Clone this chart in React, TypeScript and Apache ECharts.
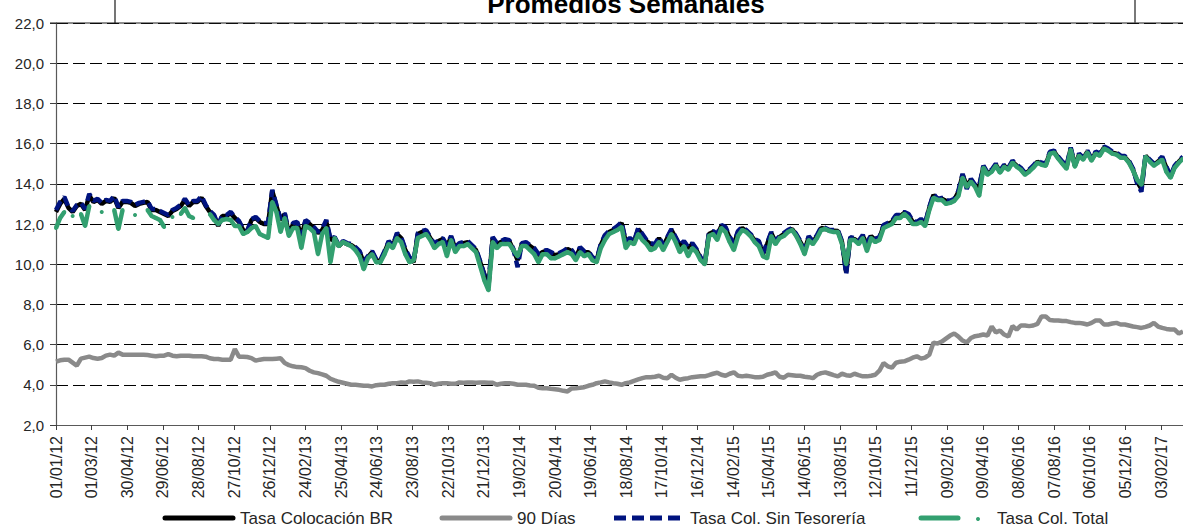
import React, { useEffect, useRef } from "react";
import * as echarts from "echarts";

// Weekly observations starting 01/01/2012 (week index i -> day i*7)
const startDateUTC = Date.UTC(2012, 0, 1);

const tasaColocacionBR: number[] = [
  12.6, 13.0, 13.25, 12.8, 12.6, 12.9, 13.0, 12.7, 13.4, 13.1,
  13.2, 13.0, 13.15, 13.1, 13.3, 12.8, 13.1, 13.1, 13.05, 12.9,
  13.0, 13.05, 13.1, 12.7, 12.7, 12.6, 12.5, 12.4, 12.65, 12.75,
  12.9, 13.2, 12.9, 13.1, 13.1, 13.3, 12.9, 12.6, 12.4, 11.9,
  12.4, 12.4, 12.55, 12.3, 12.1, 11.7, 11.6, 12.2, 12.3, 12.1,
  12.0, 12.0, 13.65, 12.9, 12.2, 12.5, 11.5, 12.0, 12.05, 11.4,
  12.15, 12.0, 11.8, 11.55, 11.7, 12.1, 11.2, 11.3, 10.9, 11.1,
  11.0, 10.95, 10.8, 10.6, 10.1, 10.35, 10.6, 10.2, 10.15, 10.6,
  11.1, 10.9, 11.5, 11.3, 10.7, 10.3, 10.1, 11.5, 11.6, 11.65,
  11.3, 10.95, 11.15, 11.25, 10.9, 11.35, 10.8, 11.0, 11.05, 11.1,
  10.9, 10.7, 10.1, 9.5, 8.9, 11.3, 11.0, 11.1, 11.2, 11.15,
  10.7, 10.2, 11.0, 11.05, 10.9, 10.75, 10.45, 10.6, 10.67, 10.55,
  10.45, 10.5, 10.6, 10.75, 10.65, 10.35, 10.8, 10.6, 10.6, 10.3,
  10.2, 10.95, 11.4, 11.6, 11.7, 11.85, 12.05, 11.1, 11.25, 11.1,
  11.75, 11.45, 11.15, 11.0, 10.95, 11.3, 10.9, 11.3, 11.7, 11.3,
  10.9, 11.1, 10.8, 11.0, 10.7, 10.3, 10.0, 11.5, 11.6, 11.45,
  11.9, 11.8, 11.3, 11.0, 11.6, 11.8, 11.65, 11.45, 11.2, 11.1,
  10.5, 11.0, 11.55, 11.1, 11.35, 11.5, 11.65, 11.75, 11.45, 11.1,
  10.7, 11.35, 11.1, 11.4, 11.8, 11.75, 11.67, 11.67, 11.65, 11.1,
  9.6, 11.3, 11.25, 11.1, 11.4, 11.0, 11.4, 11.2, 11.3, 11.9,
  12.0, 12.1, 12.4, 12.4, 12.55, 12.45, 12.1, 12.05, 12.2, 12.0,
  12.8, 13.45, 13.2, 13.25, 13.15, 13.1, 13.2, 13.6, 14.45, 13.9,
  14.2, 13.9, 13.85, 14.85, 14.5, 14.65, 14.95, 14.6, 14.9, 14.75,
  15.1, 14.9, 14.75, 14.5, 14.65, 14.85, 15.1, 15.0, 14.95, 15.55,
  15.6, 15.3, 15.05, 14.85, 15.75, 14.9, 15.45, 15.25, 15.6, 15.2,
  15.55, 15.45, 15.8, 15.7, 15.55, 15.5, 15.35, 15.33, 15.1, 14.7,
  14.1, 13.75, 15.4, 15.15, 14.95, 15.1, 15.3, 14.8, 14.35, 14.85,
  15.1, 15.3,
];

const dias90: number[] = [
  5.15, 5.22, 5.25, 5.25, 5.1, 4.95, 5.3, 5.35, 5.4, 5.33,
  5.3, 5.33, 5.45, 5.5, 5.45, 5.6, 5.5, 5.5, 5.5, 5.5,
  5.5, 5.5, 5.48, 5.45, 5.42, 5.45, 5.45, 5.53, 5.45, 5.42,
  5.45, 5.45, 5.45, 5.42, 5.42, 5.42, 5.4, 5.32, 5.28, 5.28,
  5.25, 5.25, 5.25, 5.78, 5.4, 5.4, 5.38, 5.33, 5.2, 5.25,
  5.28, 5.28, 5.28, 5.3, 5.32, 5.08, 4.98, 4.92, 4.88, 4.87,
  4.83, 4.7, 4.62, 4.58, 4.52, 4.45, 4.3, 4.22, 4.15, 4.1,
  4.05, 4.0, 4.0, 3.98, 3.95, 3.95, 3.92, 3.98, 4.0, 4.0,
  4.05, 4.08, 4.08, 4.12, 4.1, 4.17, 4.15, 4.17, 4.12, 4.1,
  4.08, 4.0, 4.05, 4.08, 4.08, 4.05, 4.05, 4.12, 4.1, 4.12,
  4.12, 4.1, 4.12, 4.12, 4.1, 4.1, 4.0, 4.05, 4.08, 4.08,
  4.05, 4.0, 4.0, 4.0, 3.97, 3.95, 3.85, 3.83, 3.83, 3.8,
  3.78, 3.75, 3.7, 3.67, 3.82, 3.83, 3.85, 3.88, 3.95, 4.0,
  4.08, 4.12, 4.17, 4.12, 4.08, 4.05, 4.0, 4.08, 4.12, 4.2,
  4.27, 4.33, 4.38, 4.38, 4.4, 4.45, 4.35, 4.33, 4.5, 4.35,
  4.25, 4.3, 4.33, 4.38, 4.4, 4.42, 4.42, 4.48, 4.55, 4.6,
  4.5, 4.45, 4.55, 4.62, 4.45, 4.42, 4.45, 4.42, 4.38, 4.38,
  4.4, 4.5, 4.55, 4.62, 4.4, 4.35, 4.5, 4.48, 4.45, 4.45,
  4.4, 4.38, 4.33, 4.5, 4.58, 4.62, 4.55, 4.48, 4.42, 4.55,
  4.48, 4.45, 4.55, 4.48, 4.42, 4.42, 4.45, 4.5, 4.7, 5.08,
  4.92, 4.85, 5.1, 5.15, 5.17, 5.25, 5.35, 5.42, 5.3, 5.35,
  5.5, 6.1, 6.05, 6.15, 6.3, 6.45, 6.55, 6.4, 6.2, 6.1,
  6.33, 6.42, 6.45, 6.5, 6.45, 6.9, 6.6, 6.7, 6.5, 6.4,
  6.92, 6.75, 6.95, 6.95, 6.92, 6.95, 7.03, 7.4, 7.4, 7.22,
  7.2, 7.2, 7.17, 7.17, 7.12, 7.08, 7.08, 7.05, 7.0, 7.08,
  7.2, 7.2, 7.0, 7.0, 7.05, 7.08, 7.0, 7.0, 6.95, 6.9,
  6.87, 6.83, 6.88, 6.95, 7.08, 6.9, 6.83, 6.78, 6.75, 6.75,
  6.55, 6.65,
];

const tasaColSinTesoreria: number[] = [
  12.7, 13.1, 13.35, 12.85, 12.65, 12.95, 13.05, 12.75, 13.5, 13.15,
  13.25, 13.05, 13.2, 13.15, 13.4, 12.85, 13.15, 13.15, 13.1, 12.95,
  13.05, 13.1, 13.15, 12.75, 12.75, 12.65, 12.55, 12.45, 12.7, 12.8,
  12.95, 13.25, 12.95, 13.15, 13.15, 13.4, 12.95, 12.65, 12.45, 11.95,
  12.45, 12.45, 12.6, 12.35, 12.15, 11.75, 11.65, 12.25, 12.35, 12.15,
  12.05, 12.05, 13.7, 12.95, 12.25, 12.55, 11.55, 12.05, 12.1, 11.45,
  12.2, 12.05, 11.85, 11.6, 11.75, 12.2, 11.25, 11.35, 10.95, 11.15,
  11.05, 11.0, 10.85, 10.65, 10.15, 10.4, 10.65, 10.25, 10.2, 10.65,
  11.15, 10.95, 11.55, 11.35, 10.75, 10.35, 10.15, 11.55, 11.65, 11.7,
  11.35, 11.0, 11.2, 11.3, 10.95, 11.4, 10.85, 11.05, 11.1, 11.15,
  10.95, 10.75, 10.15, 9.45, 9.1, 11.35, 11.05, 11.15, 11.25, 11.2,
  10.75, 9.85, 11.05, 11.1, 10.95, 10.8, 10.5, 10.65, 10.7, 10.6,
  10.5, 10.55, 10.65, 10.8, 10.7, 10.4, 10.85, 10.65, 10.65, 10.35,
  10.25, 11.0, 11.45, 11.65, 11.75, 11.9, 12.1, 11.15, 11.3, 11.15,
  11.8, 11.5, 11.2, 11.05, 11.0, 11.35, 10.95, 11.35, 11.75, 11.35,
  10.95, 11.15, 10.85, 11.05, 10.75, 10.35, 10.05, 11.55, 11.65, 11.5,
  11.95, 11.85, 11.35, 11.05, 11.65, 11.85, 11.7, 11.5, 11.25, 11.15,
  10.55, 11.05, 11.6, 11.15, 11.4, 11.55, 11.7, 11.8, 11.5, 11.15,
  10.75, 11.4, 11.15, 11.45, 11.85, 11.8, 11.7, 11.7, 11.7, 11.15,
  9.5, 11.35, 11.3, 11.15, 11.45, 11.05, 11.45, 11.25, 11.35, 11.95,
  12.05, 12.15, 12.45, 12.45, 12.6, 12.5, 12.15, 12.1, 12.25, 12.05,
  12.85, 13.5, 13.25, 13.3, 13.2, 13.15, 13.25, 13.65, 14.5, 13.75,
  14.25, 13.95, 13.9, 14.9, 14.55, 14.7, 15.0, 14.65, 14.95, 14.8,
  15.15, 14.95, 14.8, 14.55, 14.7, 14.9, 15.15, 15.05, 15.0, 15.6,
  15.65, 15.35, 15.1, 14.9, 15.8, 14.95, 15.5, 15.3, 15.65, 15.25,
  15.6, 15.5, 15.85, 15.75, 15.6, 15.55, 15.4, 15.38, 15.15, 14.75,
  14.0, 13.6, 15.45, 15.2, 15.0, 15.15, 15.35, 14.85, 14.4, 14.9,
  15.15, 15.35,
];

const tasaColTotal: (number | null)[] = [
  11.8, 12.3, 12.6, null, 12.4, null, 12.5, 11.9, 12.9, null,
  null, 12.6, null, null, 12.7, 11.75, 12.7, null, null, 12.45,
  null, null, 12.7, 12.4, 12.3, 12.2, 11.85, null, 12.35, null,
  12.5, 12.8, 12.4, 12.3, null, null, null, 12.5, 12.2, 12.0,
  12.2, 12.25, 12.2, 11.9, 11.9, 11.5, 11.6, 11.8, 11.9, 11.5,
  11.4, 11.3, 13.1, 12.6, 11.6, 12.3, 11.4, 11.8, 11.8, 10.8,
  11.9, 11.8, 11.6, 10.5, 11.5, 11.8, 10.1, 11.3, 10.9, 11.1,
  11.0, 10.9, 10.7, 10.4, 9.75, 10.3, 10.5, 10.1, 10.1, 10.5,
  11.0, 10.8, 11.3, 11.1, 10.5, 10.1, 10.2, 11.3, 11.4, 11.5,
  11.2, 10.8, 11.0, 11.1, 10.4, 11.2, 10.6, 10.9, 10.9, 11.0,
  10.8, 10.6, 9.9, 9.2, 8.7, 11.1, 10.8, 11.0, 11.0, 11.0,
  10.7, 10.4, 10.9, 10.9, 10.7, 10.5, 10.1, 10.5, 10.5, 10.3,
  10.3, 10.4, 10.5, 10.6, 10.5, 10.2, 10.6, 10.4, 10.5, 10.2,
  10.1, 10.8, 11.2, 11.5, 11.6, 11.7, 11.85, 10.8, 11.1, 11.0,
  11.5, 11.2, 11.0, 10.7, 10.8, 11.1, 10.7, 11.1, 11.5, 11.1,
  10.6, 10.9, 10.4, 10.8, 10.6, 10.2, 10.0, 11.4, 11.5, 11.2,
  11.8, 11.6, 11.1, 10.7, 11.4, 11.7, 11.6, 11.4, 11.1, 10.9,
  10.4, 10.3, 11.4, 11.0, 11.3, 11.4, 11.6, 11.7, 11.4, 11.0,
  10.5, 11.2, 11.0, 11.3, 11.7, 11.75, 11.65, 11.6, 11.6, 11.0,
  10.0, 11.2, 11.2, 11.0, 11.3, 10.65, 11.3, 11.1, 11.2, 11.8,
  11.9, 12.0, 12.3, 12.3, 12.5, 12.3, 12.0, 12.0, 12.1, 11.9,
  12.7, 13.3, 13.2, 13.2, 13.0, 13.05, 13.15, 13.4, 14.3, 13.85,
  14.1, 13.85, 13.4, 14.8, 14.45, 14.6, 14.9, 14.55, 14.85, 14.7,
  15.05, 14.85, 14.7, 14.45, 14.6, 14.8, 15.05, 14.95, 14.9, 15.5,
  15.55, 15.25, 15.0, 14.75, 15.7, 14.85, 15.4, 15.2, 15.55, 15.15,
  15.5, 15.4, 15.75, 15.65, 15.5, 15.45, 15.3, 15.3, 15.05, 14.65,
  14.2, 13.95, 15.35, 15.1, 14.9, 15.05, 15.2, 14.6, 14.3, 14.8,
  15.05, 15.25,
];

const seriesNames: string[] = ["Tasa Colocación BR", "90 Días", "Tasa Col. Sin Tesorería", "Tasa Col. Total"];
const yTickValues: number[] = [2, 4, 6, 8, 10, 12, 14, 16, 18, 20, 22];
const xLabelStepDays = 60;
const xMaxDays = 1897;

const FONT = "'Liberation Sans', Arial, sans-serif";
const C_BLACK = "#000000";
const C_GRAY = "#8a8a8a";
const C_BLUE = "#00137f";
const C_GREEN = "#33a070";

function dayLabel(v: number): string {
  const d = new Date(startDateUTC + Math.round(v) * 86400000);
  const dd = String(d.getUTCDate()).padStart(2, "0");
  const mm = String(d.getUTCMonth() + 1).padStart(2, "0");
  const yy = String(d.getUTCFullYear() % 100).padStart(2, "0");
  return `${dd}/${mm}/${yy}`;
}

const toPairs = (arr: (number | null)[]) => arr.map((v, i) => [i * 7, v]);

export default function App() {
  const ref = useRef<HTMLDivElement>(null);
  useEffect(() => {
    if (!ref.current) return;
    const chart = echarts.init(ref.current, undefined, { renderer: "svg" });
    const ly = 518;
    const legendText = (x: number, t: string) => ({
      type: "text",
      x,
      y: ly,
      style: { text: t, font: `17px ${FONT}`, fill: "#262626", align: "left", verticalAlign: "middle" },
      z: 100,
    });
    chart.setOption({
      animation: false,
      backgroundColor: "#ffffff",
      grid: { left: 56, right: 0, top: 23, bottom: 102, containLabel: false },
      xAxis: {
        type: "value",
        min: 0,
        max: xMaxDays,
        interval: xLabelStepDays,
        axisLine: { show: true, lineStyle: { color: "#595959", width: 1.2 } },
        axisTick: { show: true, inside: false, length: 5, lineStyle: { color: "#404040" } },
        splitLine: { show: false },
        axisLabel: {
          rotate: 90,
          margin: 11,
          fontSize: 16,
          fontFamily: FONT,
          color: "#262626",
          showMaxLabel: false,
          formatter: (v: number) => dayLabel(v),
        },
      },
      yAxis: {
        type: "value",
        min: yTickValues[0],
        max: yTickValues[yTickValues.length - 1],
        interval: 2,
        axisLine: { show: true, lineStyle: { color: "#595959", width: 1.2 } },
        axisTick: { show: true, inside: false, length: 6, lineStyle: { color: "#404040" } },
        splitLine: { show: true, lineStyle: { color: "#000000", width: 1, type: [12, 5] } },
        axisLabel: {
          margin: 12,
          fontSize: 15,
          fontFamily: FONT,
          color: "#262626",
          formatter: (v: number) => v.toFixed(1).replace(".", ","),
        },
      },
      graphic: [
        { type: "line", shape: { x1: 50, y1: 23, x2: 1183, y2: 23 }, style: { stroke: "#1a1a1a", lineWidth: 1.2 }, z: 100 },
        { type: "line", shape: { x1: 115, y1: 0, x2: 115, y2: 23 }, style: { stroke: "#1a1a1a", lineWidth: 1.2 }, z: 100 },
        { type: "line", shape: { x1: 1135, y1: 0, x2: 1135, y2: 23 }, style: { stroke: "#4d4d4d", lineWidth: 1.5 }, z: 100 },
        {
          type: "text",
          x: 626,
          y: 4,
          style: {
            text: "Promedios Semanales",
            font: `bold 26px ${FONT}`,
            fill: "#000000",
            align: "center",
            verticalAlign: "middle",
          },
          z: 100,
        },
        // legend
        { type: "line", shape: { x1: 165, y1: ly, x2: 233, y2: ly }, style: { stroke: C_BLACK, lineWidth: 5, lineCap: "round" }, z: 100 },
        legendText(240, seriesNames[0]),
        { type: "line", shape: { x1: 442, y1: ly, x2: 510, y2: ly }, style: { stroke: C_GRAY, lineWidth: 5, lineCap: "round" }, z: 100 },
        legendText(517, seriesNames[1]),
        { type: "line", shape: { x1: 614, y1: ly, x2: 682, y2: ly }, style: { stroke: C_BLUE, lineWidth: 5, lineDash: [12, 6] }, z: 100 },
        legendText(690, seriesNames[2]),
        { type: "line", shape: { x1: 921, y1: ly, x2: 958, y2: ly }, style: { stroke: C_GREEN, lineWidth: 5, lineCap: "round" }, z: 100 },
        { type: "circle", shape: { cx: 978, cy: ly + 1, r: 2 }, style: { fill: C_GREEN }, z: 100 },
        legendText(997, seriesNames[3]),
      ],
      series: [
        {
          name: seriesNames[0],
          type: "line",
          data: toPairs(tasaColocacionBR),
          showSymbol: false,
          symbol: "none",
          lineStyle: { color: C_BLACK, width: 4.5 },
          itemStyle: { color: C_BLACK },
        },
        {
          name: seriesNames[1],
          type: "line",
          data: toPairs(dias90),
          showSymbol: false,
          symbol: "none",
          lineStyle: { color: C_GRAY, width: 4.5 },
          itemStyle: { color: C_GRAY },
        },
        {
          name: seriesNames[2],
          type: "line",
          data: toPairs(tasaColSinTesoreria),
          showSymbol: false,
          symbol: "none",
          lineStyle: { color: C_BLUE, width: 4.5, type: [10, 5] },
          itemStyle: { color: C_BLUE },
        },
        {
          name: seriesNames[3],
          type: "line",
          data: toPairs(tasaColTotal),
          showSymbol: true,
          symbol: "circle",
          symbolSize: 4,
          connectNulls: false,
          lineStyle: { color: C_GREEN, width: 4.5 },
          itemStyle: { color: C_GREEN },
        },
      ],
    });
    return () => chart.dispose();
  }, []);
  return (
    <div
      ref={ref}
      style={{ position: "fixed", left: 0, top: 0, width: 1183, height: 527 }}
    />
  );
}
